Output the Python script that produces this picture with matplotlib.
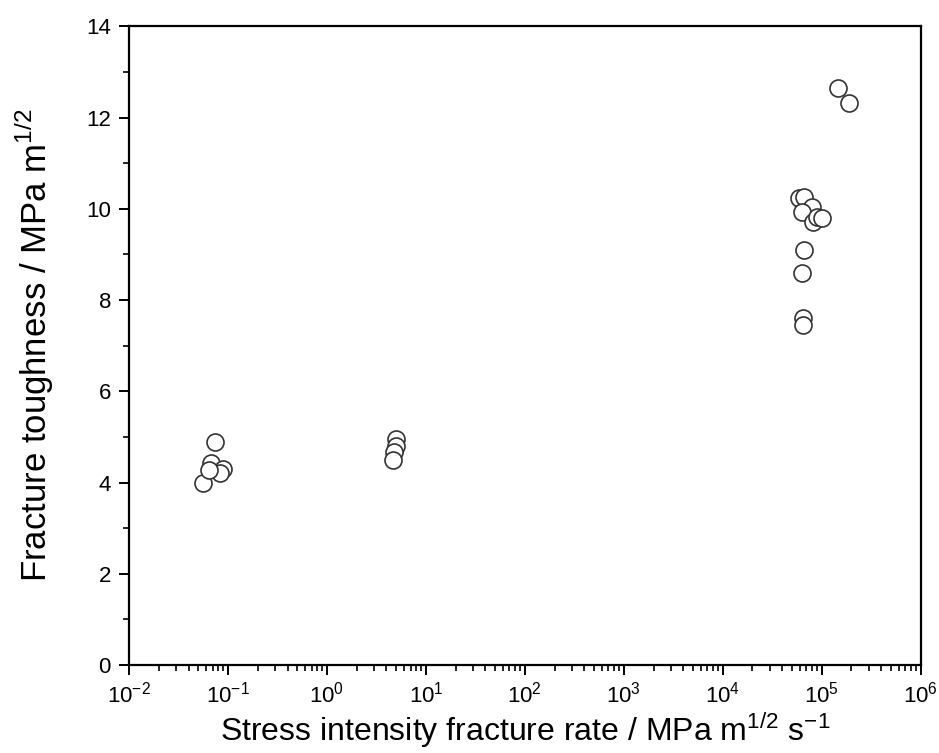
import numpy as np
import matplotlib.pyplot as plt
from matplotlib.ticker import LogLocator, NullFormatter, MultipleLocator

plt.rcParams['font.family'] = ['Liberation Sans', 'DejaVu Sans']
plt.rcParams['mathtext.fontset'] = 'custom'
plt.rcParams['mathtext.rm'] = 'Liberation Sans'

# Données
rate = np.array([0.0745, 0.068, 0.0898, 0.0838, 0.056, 0.0648,
                 4.99, 4.95, 4.8, 4.65,
                 1.45e5, 1.9e5,
                 5.96e4, 6.7e4, 7.9e4, 6.4e4, 8.1e4, 9.0e4, 1.0e5,
                 6.7e4, 6.4e4, 6.5e4, 6.5e4])
toughness = np.array([4.89, 4.43, 4.30, 4.21, 3.99, 4.28,
                      4.96, 4.80, 4.67, 4.50,
                      12.64, 12.32,
                      10.23, 10.27, 10.05, 9.92, 9.72, 9.82, 9.80,
                      9.10, 8.60, 7.60, 7.46])

fig = plt.figure(figsize=(9.39, 7.53), dpi=100)
ax = fig.add_axes([0.1374, 0.1169, 0.843, 0.8481])

ax.scatter(rate, toughness, s=150, facecolors='white', edgecolors='#333333',
           linewidths=1.2, zorder=3)

ax.set_xscale('log')
ax.set_xlim(1e-2, 1e6)
ax.set_ylim(0, 14)
ax.xaxis.set_major_locator(LogLocator(base=10, numticks=20))
ax.xaxis.set_minor_locator(LogLocator(base=10, subs=np.arange(2, 10), numticks=100))
ax.xaxis.set_minor_formatter(NullFormatter())
ax.yaxis.set_major_locator(MultipleLocator(2))
ax.yaxis.set_minor_locator(MultipleLocator(1))

for s in ax.spines.values():
    s.set_linewidth(1.6)
ax.tick_params(which='major', direction='out', length=7, width=1.4, labelsize=16,
               top=False, right=False)
ax.tick_params(axis='x', which='major', pad=5)
ax.tick_params(axis='y', which='major', pad=6)
ax.tick_params(which='minor', direction='out', length=4, width=1.2,
               top=False, right=False)

ax.set_xlabel('Stress intensity fracture rate / MPa m$^{1/2}$ s$^{-1}$', fontsize=23)
ax.set_ylabel('Fracture toughness / MPa m$^{1/2}$', fontsize=25, labelpad=22)
ax.xaxis.label.set_verticalalignment('bottom')
ax.xaxis.set_label_coords(0.5, -0.133)

plt.savefig('out.png', dpi=100)
